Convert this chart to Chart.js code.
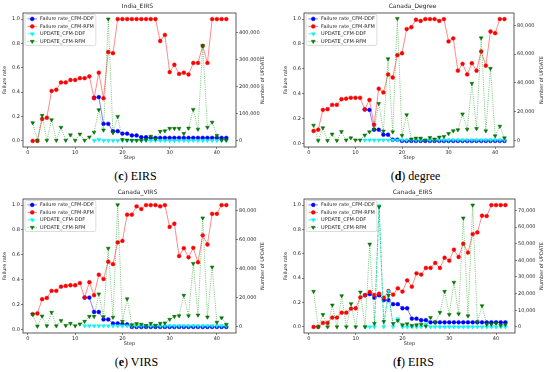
<!DOCTYPE html>
<html><head><meta charset="utf-8">
<script src="https://cdn.jsdelivr.net/npm/chart.js@4.4.0/dist/chart.umd.min.js"></script>
<style>
html,body{margin:0;padding:0;background:#fff;}
#wrap{position:relative;width:550px;height:372px;overflow:hidden;background:#fff;}
canvas{position:absolute;}
.cap{position:absolute;width:275px;text-align:center;font-family:"Liberation Serif","DejaVu Serif",serif;font-size:12px;line-height:14px;color:#000;}
</style></head><body>
<div id="wrap">
<canvas id="pc" width="275" height="166" style="left:0px;top:0px"></canvas>
<canvas id="pd" width="275" height="166" style="left:275px;top:0px"></canvas>
<canvas id="pe" width="275" height="166" style="left:0px;top:186px"></canvas>
<canvas id="pf" width="275" height="166" style="left:275px;top:186px"></canvas>
<div class="cap" style="left:-2px;top:169px">(<b>c</b>) EIRS</div>
<div class="cap" style="left:278px;top:169px">(<b>d</b>) degree</div>
<div class="cap" style="left:-1px;top:355px">(<b>e</b>) VIRS</div>
<div class="cap" style="left:276px;top:355px">(<b>f</b>) EIRS</div>
</div>
<script>
const steps = [1,2,3,4,5,6,7,8,9,10,11,12,13,14,15,16,17,18,19,20,21,22,23,24,25,26,27,28,29,30,31,32,33,34,35,36,37,38,39,40,41,42];
const xTicks = [0,10,20,30,40];
const rateTicks = [0,0.2,0.4,0.6,0.8,1.0];
const seriesLabels = ['Failure rate_CFM-DDF','Failure rate_CFM-RFM','UPDATE_CFM-DDF','UPDATE_CFM-RFM'];

// (c) India_EIRS
const indiaEirsDDF = [null,null,null,null,null,null,null,null,null,null,null,null,null,0.355,0.36,0.14,0.14,0.08,0.08,0.06,0.06,0.045,0.045,0.03,0.03,0.025,0.025,0.025,0.025,0.025,0.025,0.025,0.025,0.025,0.025,0.025,0.025,0.025,0.025,0.025,0.025,0.025];
const indiaEirsRFM = [0,0,0.18,0.19,0.41,0.42,0.48,0.48,0.50,0.50,0.515,0.515,0.53,0.35,0.56,0.35,0.73,0.72,1,1,1,1,1,1,1,1,1,0.82,0.87,0.565,0.625,0.55,0.56,0.545,0.64,0.64,0.78,0.64,1,1,1,1];
const indiaEirsUpdDDF = [null,null,null,null,null,null,null,null,null,null,null,null,null,1500,5000,1500,1500,1500,1500,1500,1500,1500,1500,1500,1500,1500,1500,1500,1500,1500,1500,1500,1500,1500,1500,1500,1500,1500,1500,1500,1500,1500];
const indiaEirsUpdRFM = [67000,2000,94000,2000,78000,2000,50000,2000,22000,2000,25000,2000,14000,32000,115000,40000,450000,30000,90000,5000,3000,2000,2000,2000,4000,17000,7000,35000,37000,46000,46000,46000,27000,47000,116000,43000,352000,50000,69000,20000,3000,3000];
const indiaEirsUpdTicks = [0,100000,200000,300000,400000];

// (d) Canada_Degree
const degreeDDF = [null,null,null,null,null,null,null,null,null,null,null,0.273,0.27,0.11,0.11,0.07,0.07,0.03,0.03,0.02,0.02,0.02,0.02,0.02,0.02,0.02,0.02,0.02,0.02,0.02,0.02,0.02,0.02,0.02,0.02,0.02,0.02,0.02,0.02,0.02,0.02,0.02];
const degreeRFM = [0.10,0.11,0.27,0.275,0.31,0.31,0.355,0.36,0.367,0.367,0.367,0.273,0.35,0.15,0.44,0.41,0.555,0.53,0.71,0.725,0.92,0.935,0.995,0.985,1,1,1,0.985,1,0.82,0.845,0.585,0.64,0.555,0.645,0.585,0.74,0.625,0.90,0.887,1,1];
const degreeUpdDDF = [null,null,null,null,null,null,null,null,null,null,null,300,300,300,300,300,300,300,300,300,300,300,300,300,300,300,300,300,300,300,300,300,300,300,300,300,300,300,300,300,300,300];
const degreeUpdRFM = [10600,0,8800,0,4400,0,6200,300,1800,300,300,3700,6000,7800,25600,6500,56700,6000,84600,3500,17800,1000,1600,1600,200,2000,1000,2300,2800,4800,6700,7400,18400,7800,39600,8300,71200,6700,50000,3200,9900,1800];
const degreeUpdTicks = [0,20000,40000,60000,80000];

// (e) Canada_VIRS
const virsDDF = [null,null,null,null,null,null,null,null,null,null,null,0.256,0.256,0.14,0.14,0.08,0.08,0.048,0.048,0.043,0.04,0.02,0.02,0.02,0.02,0.02,0.02,0.02,0.02,0.02,0.02,0.02,0.02,0.02,0.02,0.02,0.02,0.02,0.02,0.02,0.02,0.02];
const virsRFM = [0.123,0.128,0.243,0.253,0.31,0.31,0.344,0.35,0.355,0.355,0.373,0.256,0.38,0.275,0.44,0.405,0.545,0.525,0.70,0.712,0.923,0.923,0.99,0.968,1,1,1,0.99,1,0.824,0.85,0.59,0.653,0.58,0.656,0.54,0.757,0.683,0.93,0.93,1,1];
const virsUpdDDF = [null,null,null,null,null,null,null,null,null,null,null,300,300,300,300,300,300,300,300,300,300,300,300,300,300,300,300,300,300,300,300,300,300,300,300,300,300,300,300,300,300,300];
const virsUpdRFM = [8200,100,7000,300,9600,300,3900,500,2000,300,1600,3400,6800,6800,22300,6600,53800,6200,83800,3400,18900,1100,1800,1400,500,2000,700,2000,2300,4800,6800,7300,21400,7300,43300,7700,74700,6400,40800,2700,5900,1400];
const virsUpdTicks = [0,20000,40000,60000,80000];

// (f) Canada_EIRS
const canEirsDDF = [null,null,null,null,null,null,null,null,null,null,null,0.26,0.27,0.24,0.26,0.22,0.22,0.187,0.187,0.153,0.153,0.068,0.068,0.055,0.055,0.038,0.038,0.038,0.038,0.038,0.038,0.038,0.038,0.038,0.038,0.038,0.038,0.038,0.038,0.038,0.038,0.038];
const canEirsRFM = [0,0,0.033,0.033,0.077,0.077,0.117,0.117,0.15,0.153,0.243,0.26,0.287,0.262,0.273,0.24,0.295,0.265,0.317,0.29,0.382,0.33,0.44,0.43,0.484,0.484,0.525,0.484,0.568,0.544,0.634,0.574,0.683,0.61,0.762,0.776,0.913,0.91,1,1,1,1];
const canEirsUpdDDF = [null,null,null,null,null,null,null,null,null,null,null,0,0,0,72800,0,21500,0,4800,0,0,0,0,0,1500,0,0,0,0,0,0,0,0,0,0,0,0,0,0,0,0,0];
const canEirsUpdRFM = [21300,0,7400,0,13100,0,18700,0,13900,0,20900,0,49700,2000,72200,3200,18900,2000,3800,1200,1800,800,1200,1600,400,5600,2800,8700,21300,7400,26800,7800,65400,6600,73200,3000,12700,1600,1600,2200,1000,1400];
const canEirsUpdTicks = [0,10000,20000,30000,40000,50000,60000,70000];

const FONT = 'DejaVu Sans';
const TXT = '#262626';

const framePlugin = {
  id: 'frame',
  afterDraw(chart) {
    const a = chart.chartArea, ctx = chart.ctx;
    ctx.save();
    ctx.strokeStyle = '#333';
    ctx.lineWidth = 0.8;
    ctx.strokeRect(a.left, a.top, a.right - a.left, a.bottom - a.top);
    // right axis title, reading bottom-to-top
    const opt = chart.options.plugins.rightTitle;
    if (opt) {
      ctx.translate(opt.x, (a.top + a.bottom) / 2);
      ctx.rotate(-Math.PI / 2);
      ctx.font = '5px "' + FONT + '"';
      ctx.fillStyle = TXT;
      ctx.textAlign = 'center';
      ctx.textBaseline = 'middle';
      ctx.fillText(opt.text, 0, 0);
    }
    ctx.restore();
  }
};

function drawMarker(ctx, ds, x, y) {
  ctx.fillStyle = ds.pointBackgroundColor;
  ctx.strokeStyle = ds.pointBorderColor;
  ctx.lineWidth = 0.5;
  ctx.beginPath();
  if (ds.pointStyle === 'triangle') {
    const r = ds.pointRadius;
    ctx.moveTo(x, y + r);
    ctx.lineTo(x - r * 0.866, y - r * 0.5);
    ctx.lineTo(x + r * 0.866, y - r * 0.5);
    ctx.closePath();
  } else {
    ctx.arc(x, y, ds.pointRadius, 0, Math.PI * 2);
  }
  ctx.fill();
  ctx.stroke();
}

const legendPlugin = {
  id: 'innerLegend',
  afterDraw(chart) {
    const ctx = chart.ctx, a = chart.chartArea;
    const dsets = chart.data.datasets;
    ctx.save();
    ctx.font = '5px "' + FONT + '"';
    let tw = 0;
    dsets.forEach(d => { tw = Math.max(tw, ctx.measureText(d.label).width); });
    const bx = a.left + 2, by = a.top + 1.5, bw = tw + 17, bh = 31;
    ctx.fillStyle = 'rgba(255,255,255,0.85)';
    ctx.strokeStyle = '#cfcfcf';
    ctx.lineWidth = 0.7;
    ctx.beginPath();
    if (ctx.roundRect) ctx.roundRect(bx, by, bw, bh, 1.5); else ctx.rect(bx, by, bw, bh);
    ctx.fill();
    ctx.stroke();
    dsets.forEach((d, i) => {
      const cy = by + 4.4 + i * 7.5;
      const x0 = bx + 2.5, x1 = x0 + 9.5;
      ctx.strokeStyle = d.borderColor;
      ctx.lineWidth = d.borderWidth;
      ctx.setLineDash(d.borderDash || []);
      ctx.beginPath(); ctx.moveTo(x0, cy); ctx.lineTo(x1, cy); ctx.stroke();
      ctx.setLineDash([]);
      drawMarker(ctx, d, (x0 + x1) / 2, cy);
      ctx.fillStyle = TXT;
      ctx.textAlign = 'left';
      ctx.textBaseline = 'middle';
      ctx.fillText(d.label, x1 + 3, cy + 0.3);
    });
    ctx.restore();
  }
};

function pts(arr) { return steps.map((s, i) => ({x: s, y: arr[i]})); }

function panel(id, title, ddf, rfm, updDDF, updRFM, updTicks, g) {
  const H = 166;
  const tickFont = {family: FONT, size: 5};
  const gridOpt = {display: true, drawOnChartArea: false, drawTicks: true, tickLength: 2, color: '#333', lineWidth: 0.6};
  new Chart(document.getElementById(id), {
    type: 'line',
    data: {
      datasets: [
        {label: seriesLabels[0], data: pts(ddf), yAxisID: 'y', borderColor: 'rgba(40,40,255,0.65)', pointBackgroundColor: '#0000ff', pointBorderColor: '#0000ff', backgroundColor: '#0000ff', pointStyle: 'circle', pointRadius: 1.9, pointBorderWidth: 0.5, borderWidth: 0.9, order: 4},
        {label: seriesLabels[1], data: pts(rfm), yAxisID: 'y', borderColor: 'rgba(255,40,40,0.6)', pointBackgroundColor: '#ff0000', pointBorderColor: '#ff0000', backgroundColor: '#ff0000', pointStyle: 'circle', pointRadius: 1.9, pointBorderWidth: 0.5, borderWidth: 0.9, order: 3},
        {label: seriesLabels[2], data: pts(updDDF), yAxisID: 'y2', borderColor: 'rgba(0,230,230,0.8)', borderDash: [3, 1.5], pointBackgroundColor: '#00ffff', pointBorderColor: '#00e5e5', backgroundColor: '#00ffff', pointStyle: 'triangle', pointRotation: 180, pointRadius: 2.2, pointBorderWidth: 0.5, borderWidth: 0.9, order: 2},
        {label: seriesLabels[3], data: pts(updRFM), yAxisID: 'y2', borderColor: 'rgba(0,150,0,0.6)', borderDash: [1, 1.2], pointBackgroundColor: '#008000', pointBorderColor: '#006400', backgroundColor: '#008000', pointStyle: 'triangle', pointRotation: 180, pointRadius: 2.2, pointBorderWidth: 0.5, borderWidth: 0.9, order: 1}
      ]
    },
    options: {
      responsive: false, animation: false, devicePixelRatio: 1,
      layout: {padding: 0},
      elements: {line: {tension: 0}},
      spanGaps: false,
      plugins: {
        legend: {display: false}, tooltip: {enabled: false},
        title: {display: true, text: title, color: TXT, font: {family: FONT, size: 6, weight: 'normal', lineHeight: 1.2}, padding: {top: 3, bottom: 2.8}},
        rightTitle: {text: 'Number of UPDATE', x: 275 - g.rightTitleOff}
      },
      scales: {
        x: {
          type: 'linear', min: -1.05, max: 44.05,
          afterBuildTicks: s => { s.ticks = xTicks.map(v => ({value: v})); },
          afterFit: s => { s.height = H - 147; },
          grid: gridOpt, border: {display: false},
          ticks: {font: tickFont, color: TXT, padding: 0.5, maxRotation: 0, autoSkip: false, callback: v => String(v)},
          title: {display: true, text: 'Step', color: TXT, font: {family: FONT, size: 5}, padding: {top: 0, bottom: 5}}
        },
        y: {
          type: 'linear', position: 'left', min: g.yMin, max: g.yMax,
          afterBuildTicks: s => { s.ticks = rateTicks.map(v => ({value: v})); },
          afterFit: s => { s.width = g.leftW; },
          grid: gridOpt, border: {display: false},
          ticks: {font: tickFont, color: TXT, padding: 1, callback: v => Number(v).toFixed(1)},
          title: {display: true, text: 'Failure rate', color: TXT, font: {family: FONT, size: 5}, padding: {top: g.leftTitlePad, bottom: 0}}
        },
        y2: {
          type: 'linear', position: 'right', min: g.uMin, max: g.uMax,
          afterBuildTicks: s => { s.ticks = updTicks.map(v => ({value: v})); },
          afterFit: s => { s.width = g.rightW; },
          grid: gridOpt, border: {display: false},
          ticks: {font: tickFont, color: TXT, padding: 1, callback: v => Number(v).toLocaleString('en-US')},
          title: {display: false}
        }
      }
    },
    plugins: [framePlugin, legendPlugin]
  });
}

panel('pc', 'India_EIRS', indiaEirsDDF, indiaEirsRFM, indiaEirsUpdDDF, indiaEirsUpdRFM, indiaEirsUpdTicks,
  {leftW: 23, rightW: 39, leftTitlePad: 2, rightTitleOff: 12, yMin: -0.05, yMax: 1.05, uMin: -22500, uMax: 472500});
panel('pd', 'Canada_Degree', degreeDDF, degreeRFM, degreeUpdDDF, degreeUpdRFM, degreeUpdTicks,
  {leftW: 29, rightW: 36, leftTitlePad: 8, rightTitleOff: 8.5, yMin: -0.029, yMax: 1.049, uMin: -4500, uMax: 88500});
panel('pe', 'Canada_VIRS', virsDDF, virsRFM, virsUpdDDF, virsUpdRFM, virsUpdTicks,
  {leftW: 23, rightW: 39, leftTitlePad: 2, rightTitleOff: 12, yMin: -0.029, yMax: 1.049, uMin: -4600, uMax: 87800});
panel('pf', 'Canada_EIRS', canEirsDDF, canEirsRFM, canEirsUpdDDF, canEirsUpdRFM, canEirsUpdTicks,
  {leftW: 29, rightW: 35, leftTitlePad: 8, rightTitleOff: 8.5, yMin: -0.05, yMax: 1.05, uMin: -3660, uMax: 76860});
</script>
</body></html>
